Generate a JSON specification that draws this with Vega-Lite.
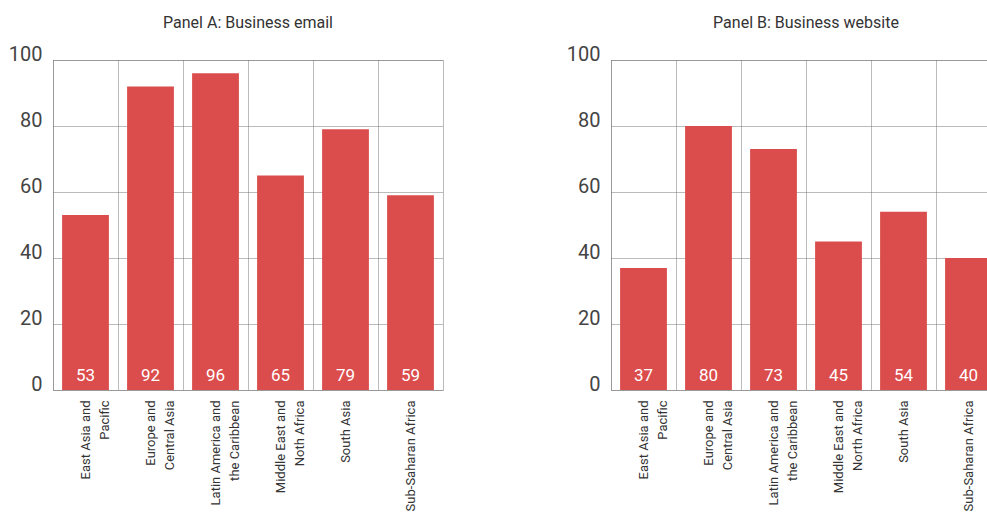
{
  "$schema": "https://vega.github.io/schema/vega-lite/v6.json",
  "padding": {"left": 5, "top": 14, "right": 0, "bottom": 0},
  "spacing": 119,
  "data": {
    "values": [
      {"panel": "A", "region": "East Asia and|Pacific", "value": 53},
      {"panel": "A", "region": "Europe and|Central Asia", "value": 92},
      {"panel": "A", "region": "Latin America and|the Caribbean", "value": 96},
      {"panel": "A", "region": "Middle East and|Noth Africa", "value": 65},
      {"panel": "A", "region": "South Asia", "value": 79},
      {"panel": "A", "region": "Sub-Saharan Africa", "value": 59},
      {"panel": "B", "region": "East Asia and|Pacific", "value": 37},
      {"panel": "B", "region": "Europe and|Central Asia", "value": 80},
      {"panel": "B", "region": "Latin America and|the Caribbean", "value": 73},
      {"panel": "B", "region": "Middle East and|North Africa", "value": 45},
      {"panel": "B", "region": "South Asia", "value": 54},
      {"panel": "B", "region": "Sub-Saharan Africa", "value": 40}
    ]
  },
  "config": {
    "font": "Roboto",
    "view": {"stroke": "#777777", "strokeDash": [1, 1], "strokeWidth": 1},
    "title": {"fontSize": 16, "fontWeight": "normal", "color": "#333333", "anchor": "middle", "offset": 13, "font": "Roboto"},
    "axisX": {
      "title": null, "labelAngle": -90, "labelAlign": "right", "labelBaseline": "middle",
      "labelPadding": 10, "ticks": false, "domain": false, "grid": true, "gridDash": [1, 1],
      "gridColor": "#777777", "bandPosition": 0, "labelFontSize": 13, "labelLineHeight": 19,
      "labelColor": "#333333", "labelExpr": "split(datum.label, '|')", "labelLimit": 0, "labelFont": "Roboto"
    },
    "axisY": {
      "title": null, "domain": false, "ticks": false,
      "grid": true, "gridDash": [1, 1], "gridColor": "#777777", "labelFontSize": 20,
      "labelColor": "#444444", "labelPadding": 11, "labelBaseline": "alphabetic",
      "labelFlush": false, "labelOverlap": false, "minExtent": 47, "maxExtent": 47, "labelFont": "Roboto"
    }
  },
  "hconcat": [
    {
      "title": "Panel A: Business email",
      "width": 390,
      "height": 330,
      "transform": [{"filter": "datum.panel === 'A'"}],
      "encoding": {
        "x": {"field": "region", "type": "nominal", "sort": null, "scale": {"paddingInner": 0, "paddingOuter": 0}}
      },
      "layer": [
        {
          "mark": {"type": "bar", "color": "#db4c4c", "width": {"band": 0.72}},
          "encoding": {
            "y": {"field": "value", "type": "quantitative", "scale": {"domain": [0, 100]}, "axis": {"values": [0, 20, 40, 60, 80, 100]}}
          }
        },
        {
          "mark": {"type": "text", "color": "white", "baseline": "alphabetic", "dy": -9, "fontSize": 17, "font": "Roboto"},
          "encoding": {
            "y": {"datum": 0, "type": "quantitative"},
            "text": {"field": "value", "type": "quantitative"}
          }
        }
      ]
    },
    {
      "title": "Panel B: Business website",
      "width": 390,
      "height": 330,
      "transform": [{"filter": "datum.panel === 'B'"}],
      "encoding": {
        "x": {"field": "region", "type": "nominal", "sort": null, "scale": {"paddingInner": 0, "paddingOuter": 0}}
      },
      "layer": [
        {
          "mark": {"type": "bar", "color": "#db4c4c", "width": {"band": 0.72}},
          "encoding": {
            "y": {"field": "value", "type": "quantitative", "scale": {"domain": [0, 100]}, "axis": {"values": [0, 20, 40, 60, 80, 100]}}
          }
        },
        {
          "mark": {"type": "text", "color": "white", "baseline": "alphabetic", "dy": -9, "fontSize": 17, "font": "Roboto"},
          "encoding": {
            "y": {"datum": 0, "type": "quantitative"},
            "text": {"field": "value", "type": "quantitative"}
          }
        }
      ]
    }
  ]
}
